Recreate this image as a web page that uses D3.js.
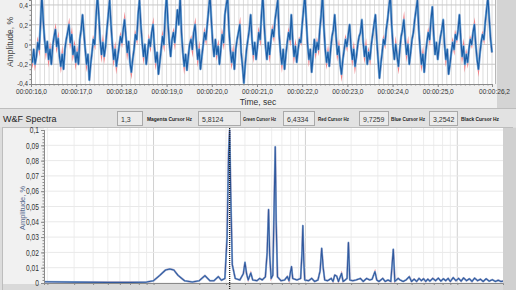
<!DOCTYPE html>
<html>
<head>
<meta charset="utf-8" />
<title>W&amp;F Spectra</title>
<script src="https://cdn.jsdelivr.net/npm/d3@7"></script>
<style>
  body { margin: 0; background: #dedede; }
  text { font-family: "Liberation Sans", "Noto Sans", sans-serif; }
</style>
</head>
<body>
<div id="chart"></div>
<script>
// waveform: amplitude %, one sample every 0.03 s from 16,0 s
const waveStart = 16.0;
const waveStep = 0.03;
const waveValues = [
  -0.1, -0.18, -0.05, -0.2, -0.12, 0.02, -0.05, 0.2, 0.5,
  0.25, 0.05, -0.08, 0.03, -0.15, -0.05, -0.2, -0.02, 0.08, 0.15,
  -0.02, 0.06, -0.12, -0.22, -0.1, -0.25, -0.05, 0.05, 0.12, 0.2,
  0.02, 0.1, -0.1, -0.02, -0.18, -0.08, -0.2, 0.05, 0.15, 0.3,
  0.12, -0.05, -0.2, -0.1, -0.36, -0.2, -0.08, 0.05, 0.0, 0.28, 0.5,
  0.3, 0.05, -0.1, 0.02, -0.12, -0.02, 0.15, 0.3, 0.45,
  0.2, 0.0, -0.15, -0.05, -0.22, -0.12, -0.02, 0.08, 0.02, 0.15, 0.25,
  0.08, -0.08, 0.03, -0.18, -0.28, -0.15, -0.05, 0.1, 0.05, 0.3, 0.45,
  0.2, 0.02, -0.12, 0.0, -0.2, -0.08, 0.05, -0.02, 0.12, 0.2,
  -0.02, -0.18, -0.08, -0.3, -0.18, -0.05, 0.08, 0.0, 0.3, 0.5,
  0.22, 0.02, -0.12, 0.05, 0.12, 0.02, 0.18, 0.35, 0.2, 0.48,
  0.12, -0.08, -0.22, -0.1, -0.26, -0.12, 0.0, 0.05, -0.05, 0.12, 0.2,
  0.0, -0.15, -0.05, -0.25, -0.12, 0.0, 0.12, 0.05, 0.2, 0.35, 0.5,
  0.25, 0.02, -0.12, 0.05, -0.1, -0.02, -0.2, -0.05, 0.1, 0.02, 0.3, 0.4, 0.48,
  0.15, -0.05, -0.18, -0.08, -0.25, -0.05, 0.05, 0.12, 0.2,
  -0.08, -0.22, -0.39, -0.2, -0.05, 0.05, 0.15, 0.3,
  0.05, -0.1, 0.02, -0.15, -0.02, 0.12, 0.05, 0.3, 0.5,
  0.2, -0.02, -0.15, 0.02, -0.1, 0.05, 0.15, 0.08, 0.25, 0.35, 0.45,
  0.1, -0.08, -0.2, -0.05, -0.25, -0.1, 0.02, 0.12, 0.05, 0.3,
  0.05, -0.12, -0.02, -0.18, -0.05, 0.05, 0.02, 0.2, 0.35, 0.5,
  0.25, 0.0, -0.15, -0.05, -0.28, -0.12, 0.05, -0.08, 0.02, -0.05, 0.15, 0.3, 0.5,
  0.18, -0.05, -0.18, -0.08, -0.22, -0.05, 0.08, 0.15, 0.3,
  0.08, -0.1, -0.02, -0.2, -0.3, -0.15, -0.05, 0.05, -0.02, 0.1, 0.2,
  -0.02, -0.15, -0.05, -0.22, -0.12, 0.0, 0.08, 0.12, 0.25,
  0.02, -0.12, -0.02, -0.2, -0.08, -0.15, 0.0, 0.1, 0.2, 0.3,
  0.05, -0.15, -0.34, -0.2, -0.08, 0.05, 0.0, 0.15, 0.25, 0.38, 0.5,
  0.2, -0.02, -0.15, 0.0, -0.12, -0.22, -0.05, 0.08, 0.15, 0.25,
  0.05, -0.1, 0.0, -0.2, -0.08, 0.05, 0.12, 0.25, 0.35, 0.45,
  0.15, -0.05, -0.2, -0.1, -0.28, -0.1, 0.02, 0.12, 0.05, 0.25, 0.38,
  0.1, -0.1, 0.02, -0.15, -0.02, 0.08, 0.15, 0.25,
  0.0, -0.15, -0.05, -0.3, -0.2, -0.08, 0.02, -0.05, 0.1, 0.05, 0.15, 0.3,
  0.05, -0.12, -0.02, -0.2, -0.1, -0.18, -0.05, 0.05, 0.0, 0.12, 0.2,
  0.0, -0.15, -0.25, -0.1, 0.02, 0.1, 0.05, 0.22, 0.35, 0.48,
  0.25, 0.05, -0.08
];
const timeTicks = [16, 17, 18, 19, 20, 21, 22, 23, 24, 25, 26.2];
const waveYTicks = [-0.4, -0.2, 0, 0.2, 0.4];

// spectrum: frequency Hz, amplitude %
const specHz = [
  0.19, 0.3, 0.5, 0.7, 0.9, 1.0, 1.1, 1.2, 1.28, 1.36, 1.45, 1.6, 1.8, 2.0, 2.18, 2.35,
  2.5, 2.67, 2.8, 2.95, 3.05, 3.12, 3.17, 3.22, 3.3, 3.45, 3.7, 3.9, 4.0, 4.1, 4.2, 4.37,
  4.5, 4.8, 5.0, 5.2, 5.45, 5.6, 5.72, 5.82, 5.95, 6.1, 6.25, 6.33, 6.42, 6.55, 6.9, 7.3,
  7.6, 7.8, 8.0, 8.1, 8.25, 8.8, 9.3, 9.5, 9.62, 9.75, 9.9, 10.5, 11.0, 11.5, 12.1, 12.5,
  12.8, 13.1, 13.4, 14.0, 14.8, 15.2, 15.6, 16.07, 16.5, 17.3, 17.7, 18.3, 18.8, 19.2, 19.6, 20.5,
  21.5, 23.0, 24.0, 25.3, 26.5, 27.5, 28.7, 29.5, 30.5, 32.3, 33.5, 35.0, 36.5, 37.9, 38.8, 40.8,
  42.0, 44.0, 46.0, 48.3, 50.0, 52.0, 54.0, 56.0, 58.0, 60.0, 62.0, 64.0, 66.0, 69.0, 72.0, 75.0,
  78.0, 81.0, 84.0, 87.0, 90.0, 94.0, 98.0, 102, 106, 110, 115, 120, 125, 130, 136, 142,
  148, 155, 162, 170, 178, 186, 194, 200
];
const specAmp = [
  0.0008, 0.0006, 0.0004, 0.0004, 0.0006, 0.0015, 0.005, 0.0085, 0.0092, 0.0085, 0.005, 0.0015, 0.0006, 0.0015, 0.0048, 0.0015,
  0.0015, 0.0042, 0.0018, 0.003, 0.03, 0.085, 0.1, 0.06, 0.012, 0.003, 0.002, 0.006, 0.0135, 0.006, 0.002, 0.0065,
  0.002, 0.0015, 0.003, 0.002, 0.004, 0.02, 0.048, 0.018, 0.003, 0.005, 0.06, 0.089, 0.04, 0.004, 0.0015, 0.002,
  0.0042, 0.0015, 0.008, 0.0107, 0.003, 0.002, 0.003, 0.02, 0.0375, 0.015, 0.002, 0.0015, 0.003, 0.001, 0.002, 0.008,
  0.0227, 0.0098, 0.002, 0.0015, 0.003, 0.001, 0.0052, 0.0045, 0.001, 0.0063, 0.001, 0.002, 0.003, 0.0265, 0.002, 0.0015,
  0.002, 0.003, 0.001, 0.003, 0.002, 0.0025, 0.0074, 0.002, 0.001, 0.003, 0.001, 0.002, 0.001, 0.022, 0.001, 0.003,
  0.002, 0.001, 0.002, 0.0041, 0.001, 0.0025, 0.001, 0.003, 0.0015, 0.0028, 0.001, 0.0025, 0.0012, 0.003, 0.0015, 0.0032,
  0.0012, 0.0028, 0.0015, 0.003, 0.001, 0.0035, 0.0015, 0.003, 0.0012, 0.0033, 0.0015, 0.0028, 0.001, 0.0032, 0.0015, 0.0025,
  0.001, 0.0028, 0.0012, 0.0022, 0.001, 0.0018, 0.001, 0.0012
];
const specYTicks = [0, 0.01, 0.02, 0.03, 0.04, 0.05, 0.06, 0.07, 0.08, 0.09, 0.1];
const cursorHz = 3.17;

// toolbar
const toolbarTitle = "W&F Spectra";
const toolbarFirst = "1,3";
const cursorLabels = ["Magenta Cursor Hz", "Green Cursor Hz", "Red Cursor Hz", "Blue Cursor Hz", "Black Cursor Hz"];
const cursorValues = ["5,8124", "6,4334", "9,7259", "3,2542"];

const width = 516;
const height = 290;

const svg = d3.select('#chart')
  .append('svg')
  .attr('width', width)
  .attr('height', height);

svg.append('rect').attr('width', width).attr('height', height).attr('fill', '#dcdcdc');

const comma = s => s.replace('.', ',');

// squeeze text horizontally (the original UI font is narrow)
function squeeze(sel, k) {
  sel.each(function () {
    const w = this.getComputedTextLength();
    d3.select(this).attr('textLength', w * k).attr('lengthAdjust', 'spacingAndGlyphs');
  });
}
function fitTo(sel, w) {
  sel.attr('textLength', w).attr('lengthAdjust', 'spacingAndGlyphs');
}

// ---------- top waveform ----------
const wBox = { left: 31, right: 492, top: 0, bottom: 84 };

svg.append('rect')
  .attr('x', 0).attr('y', 0).attr('width', 497).attr('height', 108)
  .attr('fill', '#f0f0f0');
svg.append('rect')
  .attr('x', 497).attr('y', 0).attr('width', 19).attr('height', 108)
  .attr('fill', '#d4d4d4');
svg.append('line')
  .attr('x1', 0).attr('x2', width).attr('y1', 108.5).attr('y2', 108.5)
  .attr('stroke', '#bdbdbd');

const xt = d3.scaleLinear().domain([16, 26.2]).range([wBox.left, wBox.right]);
const yt = d3.scaleLinear().domain([-0.4, 0.45]).range([wBox.bottom, wBox.top]);

svg.append('rect')
  .attr('x', wBox.left).attr('y', wBox.top)
  .attr('width', wBox.right - wBox.left + 3).attr('height', wBox.bottom - wBox.top)
  .attr('fill', '#fff');
svg.append('line')
  .attr('x1', wBox.right + 3.5).attr('x2', wBox.right + 3.5)
  .attr('y1', 0).attr('y2', wBox.bottom)
  .attr('stroke', '#b8b8b8');

svg.append('g')
  .selectAll('line')
  .data(d3.range(161, 263).map(d => d / 10))
  .join('line')
  .attr('x1', d => xt(d)).attr('x2', d => xt(d))
  .attr('y1', wBox.top).attr('y2', wBox.bottom)
  .attr('stroke', '#dcdcdc').attr('stroke-width', 1);

svg.append('g')
  .selectAll('line')
  .data([0.4, 0.2, 0, -0.2])
  .join('line')
  .attr('x1', wBox.left).attr('x2', wBox.right + 3)
  .attr('y1', d => yt(d)).attr('y2', d => yt(d))
  .attr('stroke', '#c8c8c8');

svg.append('clipPath').attr('id', 'clipTop')
  .append('rect')
  .attr('x', wBox.left).attr('y', wBox.top)
  .attr('width', wBox.right - wBox.left + 3).attr('height', wBox.bottom - wBox.top);

const wave = waveValues.map((v, i) => ({ t: waveStart + i * waveStep, v }));
const waveLine = d3.line().x(d => xt(d.t)).y(d => yt(d.v));

const wg = svg.append('g').attr('clip-path', 'url(#clipTop)');
wg.append('path').datum(wave).attr('d', waveLine)
  .attr('fill', 'none').attr('stroke', '#f27f86').attr('stroke-width', 1.8)
  .attr('stroke-linejoin', 'miter').attr('stroke-miterlimit', 10);
wg.append('path').datum(wave).attr('d', waveLine)
  .attr('fill', 'none').attr('stroke', '#86b5e0').attr('stroke-width', 2.4)
  .attr('stroke-linejoin', 'round');
wg.append('path').datum(wave).attr('d', waveLine)
  .attr('fill', 'none').attr('stroke', '#1c5ea6').attr('stroke-width', 1.2)
  .attr('stroke-linejoin', 'round');

// axes
const axTopX = svg.append('g')
  .attr('transform', `translate(0,${wBox.bottom})`)
  .call(d3.axisBottom(xt).tickValues(timeTicks).tickSize(3).tickPadding(2)
    .tickFormat(d => '00:00:' + comma(d.toFixed(1))));
svg.append('g')
  .attr('transform', `translate(0,${wBox.bottom})`)
  .call(d3.axisBottom(xt).tickValues(d3.range(161, 263).map(d => d / 10)).tickSize(1.5).tickFormat(''));
axTopX.selectAll('.tick').filter(d => d === 26.2).select('text').attr('dx', 2);

svg.append('text')
  .attr('x', 258).attr('y', 105).attr('text-anchor', 'middle')
  .style('font-size', '8.5px').attr('fill', '#333')
  .text('Time, sec');

const axTopY = svg.append('g')
  .attr('transform', `translate(${wBox.left},0)`)
  .call(d3.axisLeft(yt).tickValues(waveYTicks).tickSize(2).tickPadding(1)
    .tickFormat(d => d === 0 ? '0' : comma(d.toFixed(1))));
svg.append('g')
  .attr('transform', `translate(${wBox.left},0)`)
  .call(d3.axisLeft(yt).tickValues(d3.range(-8, 9).map(d => d / 20)).tickSize(1.5).tickFormat(''));

svg.append('text')
  .attr('transform', 'translate(13,42) rotate(-90)')
  .attr('text-anchor', 'middle')
  .style('font-size', '8.5px').attr('fill', '#444')
  .text('Amplitude, %');

// ---------- toolbar ----------
svg.append('rect')
  .attr('x', 0).attr('y', 109).attr('width', width).attr('height', 18)
  .attr('fill', '#e2e2e2');
svg.append('text')
  .attr('x', 3).attr('y', 122)
  .style('font-size', '9px').attr('fill', '#222')
  .text(toolbarTitle);

const boxes = [
  { x: 117, w: 25, t: toolbarFirst },
  { x: 198, w: 42, t: cursorValues[0] },
  { x: 283, w: 31, t: cursorValues[1] },
  { x: 359, w: 29, t: cursorValues[2] },
  { x: 429, w: 28, t: cursorValues[3] }
];
boxes.forEach(b => {
  svg.append('rect')
    .attr('x', b.x + 0.5).attr('y', 111.5).attr('width', b.w).attr('height', 14)
    .attr('fill', '#ebebeb').attr('stroke', '#a9a9a9');
  svg.append('text')
    .attr('x', b.x + 4).attr('y', 122)
    .style('font-size', '7px').attr('fill', '#333')
    .text(b.t);
});
const labelX = [147, 243, 318, 391, 461];
const labelW = [45, 33, 31, 34, 38];
cursorLabels.forEach((l, i) => {
  svg.append('text')
    .attr('x', labelX[i]).attr('y', 121)
    .style('font-size', '5.3px').style('font-weight', 'bold').attr('fill', '#222')
    .text(l)
    .call(fitTo, labelW[i]);
});

// ---------- bottom spectrum ----------
const sBox = { left: 44, right: 503, top: 130, bottom: 283 };

svg.append('rect')
  .attr('x', 2.5).attr('y', 127.5).attr('width', 510).attr('height', 170)
  .attr('fill', '#f1f1f1').attr('stroke', '#bdbdbd');
svg.append('rect')
  .attr('x', 3).attr('y', sBox.bottom + 1).attr('width', 510).attr('height', 10)
  .attr('fill', '#d9d9d9');
svg.append('rect')
  .attr('x', sBox.right).attr('y', 128).attr('width', 13).attr('height', 162)
  .attr('fill', '#d0d0d0');

const xs = d3.scaleLog().domain([0.19, 200]).range([sBox.left, sBox.right]);
const ys = d3.scaleLinear().domain([0, 0.1]).range([sBox.bottom, sBox.top]);

svg.append('rect')
  .attr('x', sBox.left).attr('y', sBox.top - 2)
  .attr('width', sBox.right - sBox.left).attr('height', sBox.bottom - sBox.top + 2)
  .attr('fill', '#fff');

const logMinor = [];
[0.1, 1, 10, 100].forEach(dec => {
  for (let k = 2; k <= 9; k++) {
    const f = dec * k;
    if (f > 0.19 && f < 200) logMinor.push(f);
  }
});
svg.append('g')
  .selectAll('line')
  .data(logMinor)
  .join('line')
  .attr('x1', d => xs(d)).attr('x2', d => xs(d))
  .attr('y1', sBox.top - 2).attr('y2', sBox.bottom)
  .attr('stroke', '#ededed');
svg.append('g')
  .selectAll('line')
  .data([1, 10, 100])
  .join('line')
  .attr('x1', d => xs(d)).attr('x2', d => xs(d))
  .attr('y1', sBox.top - 2).attr('y2', sBox.bottom)
  .attr('stroke', '#d0d0d0');
svg.append('g')
  .selectAll('line')
  .data(specYTicks)
  .join('line')
  .attr('x1', sBox.left).attr('x2', sBox.right)
  .attr('y1', d => ys(d)).attr('y2', d => ys(d))
  .attr('stroke', '#e9e9e9');

svg.append('clipPath').attr('id', 'clipBot')
  .append('rect')
  .attr('x', sBox.left).attr('y', sBox.top - 2)
  .attr('width', sBox.right - sBox.left).attr('height', sBox.bottom - sBox.top + 3);

const spec = specHz.map((f, i) => ({ f, a: specAmp[i] }));
const specLine = d3.line().x(d => xs(d.f)).y(d => ys(d.a));

const sg = svg.append('g').attr('clip-path', 'url(#clipBot)');
sg.append('path').datum(spec).attr('d', specLine)
  .attr('fill', 'none').attr('stroke', '#ee7f86').attr('stroke-width', 1.6)
  .attr('stroke-linejoin', 'miter');
sg.append('path').datum(spec).attr('d', specLine)
  .attr('fill', 'none').attr('stroke', '#9dbde2').attr('stroke-width', 2)
  .attr('stroke-linejoin', 'round');
sg.append('path').datum(spec).attr('d', specLine)
  .attr('fill', 'none').attr('stroke', '#30589c').attr('stroke-width', 1.1)
  .attr('stroke-linejoin', 'round');

svg.append('line')
  .attr('x1', xs(cursorHz)).attr('x2', xs(cursorHz))
  .attr('y1', sBox.top - 2).attr('y2', sBox.bottom + 7)
  .attr('stroke', '#222').attr('stroke-width', 1.3)
  .attr('stroke-dasharray', '1,1');

svg.append('g')
  .attr('transform', `translate(0,${sBox.bottom})`)
  .call(d3.axisBottom(xs).tickValues(logMinor.concat([1, 10, 100])).tickSize(2).tickFormat(''));

const axBotY = svg.append('g')
  .attr('transform', `translate(${sBox.left},0)`)
  .call(d3.axisLeft(ys).tickValues(specYTicks).tickSize(3).tickPadding(2)
    .tickFormat(d => d === 0 ? '0' : comma(String(+d.toFixed(2)))));
svg.append('g')
  .attr('transform', `translate(${sBox.left},0)`)
  .call(d3.axisLeft(ys).tickValues(d3.range(0, 51).map(d => d / 500)).tickSize(1.5).tickFormat(''));

svg.append('text')
  .attr('transform', 'translate(25,208) rotate(-90)')
  .attr('text-anchor', 'middle')
  .style('font-size', '7.5px').attr('fill', '#56698c')
  .text('Amplitude, %');

// axis styling
svg.selectAll('.domain').attr('stroke', '#8a8a8a');
svg.selectAll('.tick line').attr('stroke', '#8a8a8a');
svg.selectAll('.tick text')
  .style('font-size', '8.5px')
  .style('font-family', '"Liberation Sans", sans-serif')
  .attr('fill', '#333');
axTopX.select('.domain').remove();
axTopX.selectAll('.tick text').style('font-size', '7.5px').call(fitTo, 31);
axTopY.selectAll('.tick text').style('font-size', '8px').call(squeeze, 0.78);
axTopY.selectAll('.tick').filter(d => d === -0.4).select('text').attr('dy', '0.15em');
axBotY.selectAll('.tick text').call(squeeze, 0.78);
</script>
</body>
</html>
